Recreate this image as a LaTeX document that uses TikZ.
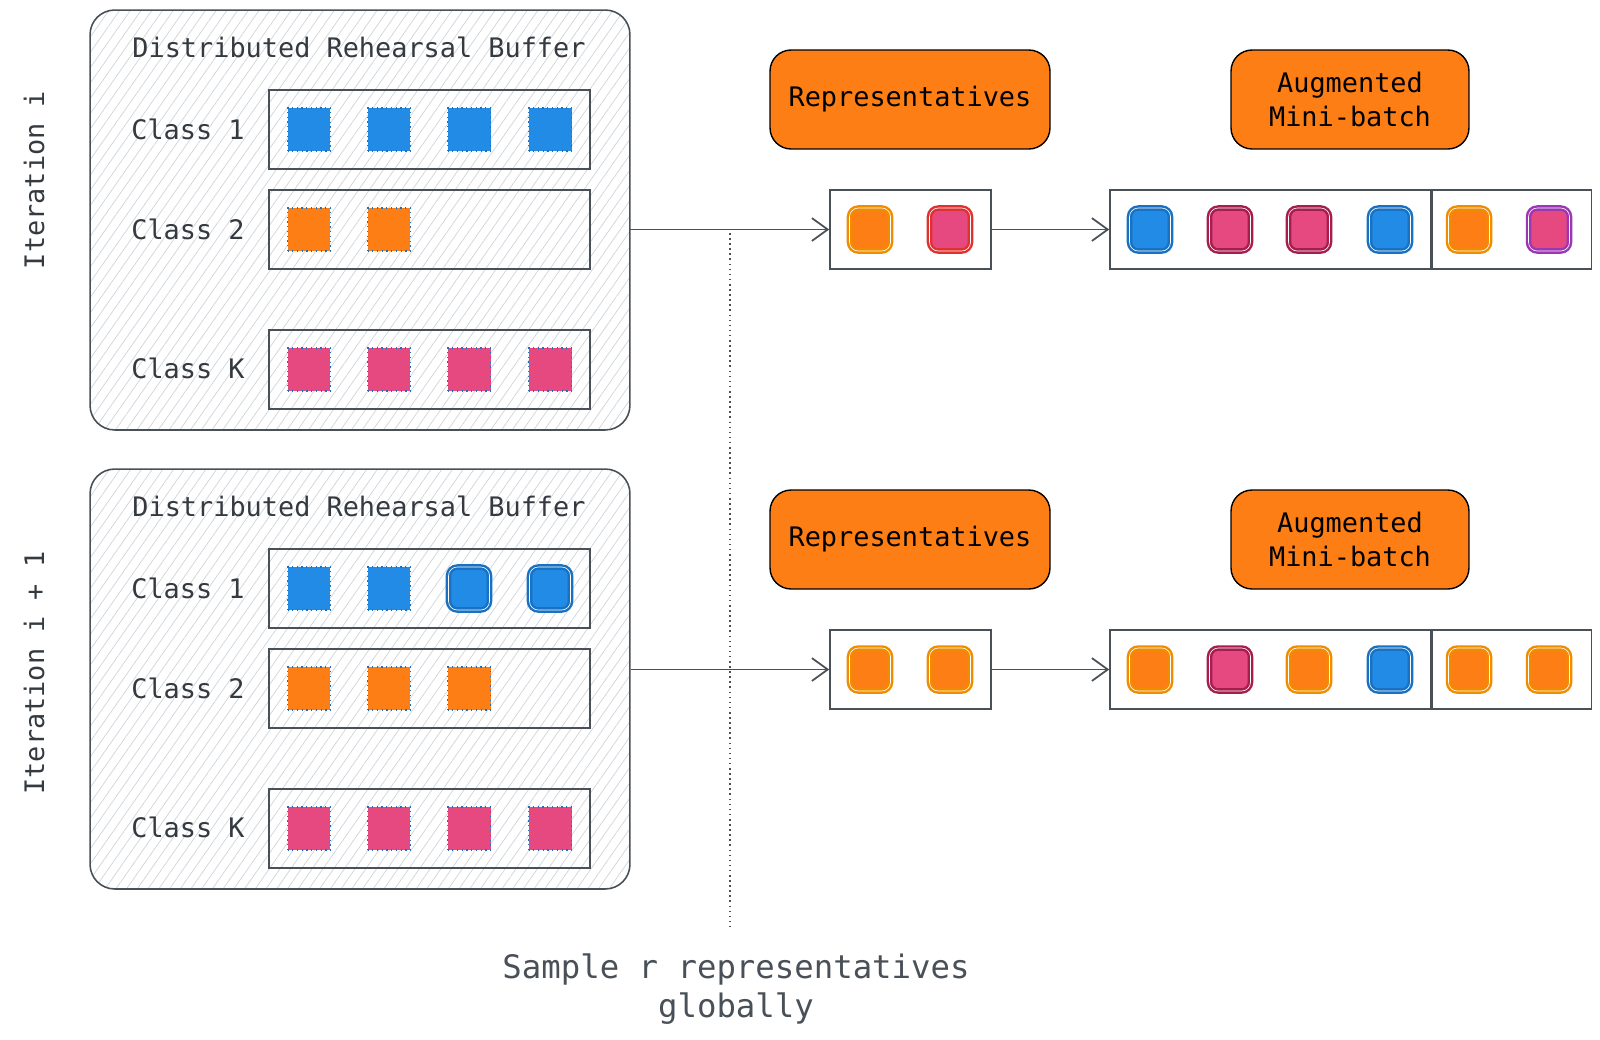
\documentclass[tikz,border=0pt]{standalone}
\usepackage{fontspec}
\setmonofont{DejaVu Sans Mono}
\usetikzlibrary{arrows.meta,patterns.meta,positioning}

\definecolor{inkgray}{HTML}{495057}
\definecolor{labelgray}{HTML}{343A40}
\definecolor{hatchgray}{HTML}{CED4DA}
\definecolor{fillblue}{HTML}{228BE6}
\definecolor{lineblue}{HTML}{1971C2}
\definecolor{fillorange}{HTML}{FD7E14}
\definecolor{lineorange}{HTML}{F08C00}
\definecolor{fillpink}{HTML}{E64980}
\definecolor{linecrimson}{HTML}{A61E4D}
\definecolor{linered}{HTML}{E03131}
\definecolor{linepurple}{HTML}{9C36B5}

\tikzset{
	txt/.style={font=\ttfamily\fontsize{15.3}{19}\selectfont, text=labelgray, inner sep=0pt},
	buffer/.style={draw=inkgray, line width=0.9pt, rounded corners=14pt,
		pattern={Lines[angle=55,distance=5pt,line width=0.4pt]}, pattern color=hatchgray,
		minimum width=10.8cm, minimum height=8.4cm},
	rowbox/.style={draw=inkgray, line width=0.9pt, minimum width=6.42cm, minimum height=1.58cm},
	batchbox/.style={draw=inkgray, line width=0.9pt, fill=white, minimum height=1.58cm},
	tagbox/.style={draw=black, line width=0.8pt, fill=fillorange, rounded corners=12pt,
		minimum height=1.98cm, align=center, font=\ttfamily\fontsize{15.3}{19}\selectfont},
	bufsq/.style={fill=#1, draw=lineblue, dotted, line width=0.7pt, minimum size=0.86cm, inner sep=0pt},
	repsq/.style 2 args={fill=#1, draw=#2, line width=1.4pt, double=white, double distance=0.35pt,
		rounded corners=5pt, minimum width=0.82cm, minimum height=0.86cm, inner sep=0pt},
	flow/.style={draw=inkgray, line width=1pt, -{Straight Barb[length=9pt,width=13pt,line width=1pt]}},
}

\begin{document}
\begin{tikzpicture}[x=0.02cm, y=-0.02cm]
	\useasboundingbox (0,0) rectangle (1600,1039);

	% iteration i
	\node[txt, rotate=90] (iterA) at (34,180) {Iteration i};
	\node[buffer] (bufA) at (360,220) {};
	\node[txt] (titleA) at (359,47) {Distributed Rehearsal Buffer};
	\node[rowbox] (rowA1) at (429.5,129.5) {};
	\node[rowbox] (rowA2) at (429.5,229.5) {};
	\node[rowbox] (rowAK) at (429.5,369.5) {};
	\node[txt, anchor=west] (classA1) at (131,129) {Class 1};
	\node[txt, anchor=west] (classA2) at (131,229) {Class 2};
	\node[txt, anchor=west] (classAK) at (131,368) {Class K};
	\foreach \x in {309,389,469,550}
		\node[bufsq=fillblue] at (\x,129.5) {};
	\foreach \x in {309,389}
		\node[bufsq=fillorange] at (\x,229.5) {};
	\foreach \x in {309,389,469,550}
		\node[bufsq=fillpink] at (\x,369.5) {};

	\node[tagbox, minimum width=5.6cm] (repTagA) at (910,99.5) {Representatives};
	\node[tagbox, minimum width=4.76cm] (augTagA) at (1350,99.5) {Augmented\\Mini-batch};

	\node[batchbox, minimum width=3.22cm] (repA) at (910.5,229.5) {};
	\node[repsq={fillorange}{lineorange}] at (870,229.5) {};
	\node[repsq={fillpink}{linered}] at (950,229.5) {};

	\node[batchbox, minimum width=6.42cm] (batchA) at (1270.5,229.5) {};
	\node[batchbox, minimum width=3.18cm, right=0pt of batchA] (extraA) {};
	\node[repsq={fillblue}{lineblue}] at (1150,229.5) {};
	\node[repsq={fillpink}{linecrimson}] at (1230,229.5) {};
	\node[repsq={fillpink}{linecrimson}] at (1309,229.5) {};
	\node[repsq={fillblue}{lineblue}] at (1390,229.5) {};
	\node[repsq={fillorange}{lineorange}] at (1469,229.5) {};
	\node[repsq={fillpink}{linepurple}] at (1549,229.5) {};

	\draw[flow] (bufA.east |- repA) -- (repA.west);
	\draw[flow] (repA.east) -- (batchA.west);

	% iteration i + 1
	\node[txt, rotate=90] (iterB) at (34,673) {Iteration i + 1};
	\node[buffer] (bufB) at (360,679) {};
	\node[txt] (titleB) at (359,506) {Distributed Rehearsal Buffer};
	\node[rowbox] (rowB1) at (429.5,588.5) {};
	\node[rowbox] (rowB2) at (429.5,688.5) {};
	\node[rowbox] (rowBK) at (429.5,828.5) {};
	\node[txt, anchor=west] (classB1) at (131,588) {Class 1};
	\node[txt, anchor=west] (classB2) at (131,688) {Class 2};
	\node[txt, anchor=west] (classBK) at (131,827) {Class K};
	\foreach \x in {309,389}
		\node[bufsq=fillblue] at (\x,588.5) {};
	\foreach \x in {469,550}
		\node[repsq={fillblue}{lineblue}] at (\x,588.5) {};
	\foreach \x in {309,389,469}
		\node[bufsq=fillorange] at (\x,688.5) {};
	\foreach \x in {309,389,469,550}
		\node[bufsq=fillpink] at (\x,828.5) {};

	\node[tagbox, minimum width=5.6cm] (repTagB) at (910,539.5) {Representatives};
	\node[tagbox, minimum width=4.76cm] (augTagB) at (1350,539.5) {Augmented\\Mini-batch};

	\node[batchbox, minimum width=3.22cm] (repB) at (910.5,669.5) {};
	\node[repsq={fillorange}{lineorange}] at (870,669.5) {};
	\node[repsq={fillorange}{lineorange}] at (950,669.5) {};

	\node[batchbox, minimum width=6.42cm] (batchB) at (1270.5,669.5) {};
	\node[batchbox, minimum width=3.18cm, right=0pt of batchB] (extraB) {};
	\node[repsq={fillorange}{lineorange}] at (1150,669.5) {};
	\node[repsq={fillpink}{linecrimson}] at (1230,669.5) {};
	\node[repsq={fillorange}{lineorange}] at (1309,669.5) {};
	\node[repsq={fillblue}{lineblue}] at (1390,669.5) {};
	\node[repsq={fillorange}{lineorange}] at (1469,669.5) {};
	\node[repsq={fillorange}{lineorange}] at (1549,669.5) {};

	\draw[flow] (bufB.east |- repB) -- (repB.west);
	\draw[flow] (repB.east) -- (batchB.west);

	% global sampling
	\coordinate (cutTop) at (730,233);
	\coordinate (cutBot) at (730,926);
	\draw[inkgray, line width=0.9pt, dotted] (cutTop) -- (cutBot);
	\node[txt, align=center, font=\ttfamily\fontsize{18.4}{22}\selectfont, text=inkgray] (sampleNote) at (736,989) {Sample r representatives\\globally};
\end{tikzpicture}
\end{document}
